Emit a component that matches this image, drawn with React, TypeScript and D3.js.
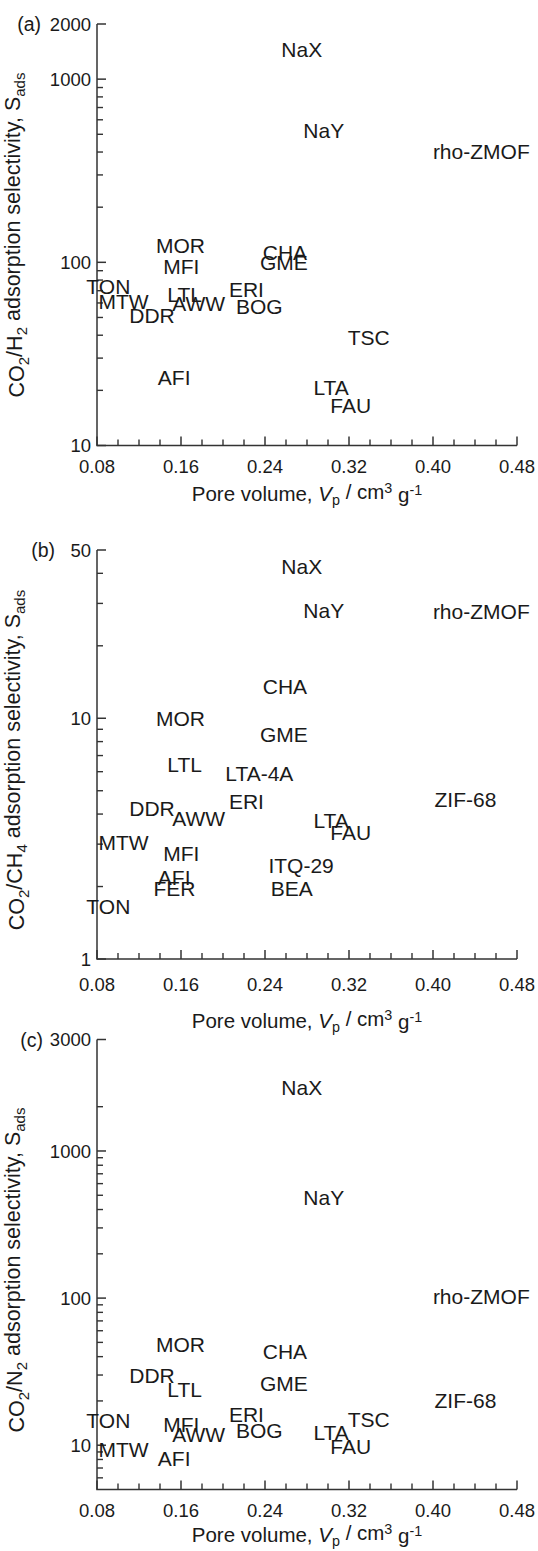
import React from "react";
import * as d3 from "d3";

const W = 538;
const H = 1551;

// Pore volume (cm3 g-1) of each framework
const FRAMEWORKS = [
  "NaX", "NaY", "rho-ZMOF", "MOR", "CHA", "GME", "MFI", "TON", "MTW", "LTL", "AWW",
  "DDR", "ERI", "BOG", "TSC", "AFI", "LTA", "FAU", "LTA-4A", "ZIF-68", "ITQ-29", "FER", "BEA",
];
const PORE_VOLUME = [
  0.275, 0.296, 0.446, 0.1595, 0.259, 0.258, 0.1603, 0.0908, 0.1053, 0.1635, 0.1768,
  0.1324, 0.2223, 0.2345, 0.3388, 0.1535, 0.303, 0.3216, 0.2346, 0.4309, 0.2744, 0.1537, 0.2655,
];

// (a) CO2/H2 adsorption selectivity
const H2_NAMES = ["NaX", "NaY", "rho-ZMOF", "MOR", "CHA", "GME", "MFI", "TON", "MTW", "LTL", "AWW", "DDR", "ERI", "BOG", "TSC", "AFI", "LTA", "FAU"];
const H2_SEL = [1446, 525, 405, 124.3, 113.8, 100.4, 94.9, 74.2, 61.1, 66.6, 59.8, 51.4, 71.0, 57.3, 39.0, 23.6, 20.8, 16.6];

// (b) CO2/CH4 adsorption selectivity
const CH4_NAMES = ["NaX", "NaY", "rho-ZMOF", "CHA", "MOR", "GME", "LTL", "LTA-4A", "ZIF-68", "ERI", "DDR", "AWW", "LTA", "FAU", "MTW", "MFI", "ITQ-29", "AFI", "FER", "BEA", "TON"];
const CH4_SEL = [42.6, 28.1, 27.8, 13.6, 9.98, 8.6, 6.42, 5.91, 4.59, 4.51, 4.22, 3.82, 3.76, 3.35, 3.04, 2.75, 2.44, 2.19, 1.96, 1.96, 1.66];

// (c) CO2/N2 adsorption selectivity
const N2_NAMES = ["NaX", "NaY", "rho-ZMOF", "MOR", "CHA", "DDR", "LTL", "GME", "ZIF-68", "TON", "ERI", "TSC", "MFI", "BOG", "AWW", "LTA", "FAU", "MTW", "AFI"];
const N2_SEL = [2246, 484, 102.8, 48.4, 43.1, 29.7, 24.1, 26.1, 20.3, 14.7, 16.1, 14.9, 13.95, 12.7, 11.9, 12.2, 9.86, 9.35, 8.16];

const X_TICKS = [0.08, 0.16, 0.24, 0.32, 0.4, 0.48];
const X_MINOR_STEP = 0.02;
const H2_Y_TICKS = [10, 100, 1000, 2000];
const CH4_Y_TICKS = [1, 10, 50];
const N2_Y_TICKS = [10, 100, 1000, 3000];

const FONT = "'Liberation Sans', Arial, Helvetica, sans-serif";
const INK = "#1a1a1a";
const AXIS = "#333";

type PanelSpec = {
  tag: string;
  tagRight: number;
  gas: string;
  names: string[];
  sel: number[];
  yTicks: number[];
  yDomain: number[];
  yRange: number[];
  tickLabelY: number;
  titleY: number;
  yTitleMid: number;
};

const X0 = 97;
const X1 = 517;

const PANELS: PanelSpec[] = [
  {
    tag: "(a)", tagRight: 41, gas: "H", names: H2_NAMES, sel: H2_SEL, yTicks: H2_Y_TICKS,
    yDomain: [10, 2000], yRange: [445.5, 24], tickLabelY: 473, titleY: 501, yTitleMid: 235,
  },
  {
    tag: "(b)", tagRight: 55, gas: "CH", names: CH4_NAMES, sel: CH4_SEL, yTicks: CH4_Y_TICKS,
    yDomain: [1, 50], yRange: [959, 550], tickLabelY: 991, titleY: 1028, yTitleMid: 760,
  },
  {
    tag: "(c)", tagRight: 43, gas: "N", names: N2_NAMES, sel: N2_SEL, yTicks: N2_Y_TICKS,
    yDomain: [5, 2000, 3000], yRange: [1489.5, 1106.7, 1039.5], tickLabelY: 1517, titleY: 1542, yTitleMid: 1270,
  },
];

function minorTicks(domain: number[], majors: number[]): number[] {
  const lo = domain[0];
  const hi = domain[domain.length - 1];
  const out: number[] = [];
  for (let k = Math.floor(Math.log10(lo)); k <= Math.ceil(Math.log10(hi)); k++) {
    for (let m = 1; m <= 9; m++) {
      const v = m * Math.pow(10, k);
      if (v <= lo || v > hi) continue;
      if (majors.some((t) => Math.abs(t - v) < 1e-9)) continue;
      out.push(v);
    }
  }
  return out;
}

function yTitle(gas: string) {
  const sub = { fontSize: "0.7em" } as React.CSSProperties;
  const suffix = gas === "CH" ? "4" : "2";
  return (
    <>
      <tspan>CO</tspan>
      <tspan dy="0.3em" style={sub}>2</tspan>
      <tspan dy="-0.3em">/{gas}</tspan>
      <tspan dy="0.3em" style={sub}>{suffix}</tspan>
      <tspan dy="-0.3em"> adsorption selectivity, S</tspan>
      <tspan dy="0.3em" style={sub}>ads</tspan>
    </>
  );
}

function Panel({ p }: { p: PanelSpec }) {
  const x = d3.scaleLinear().domain([0.08, 0.48]).range([X0, X1]);
  const y = d3.scaleLog().domain(p.yDomain).range(p.yRange);
  const bottom = p.yRange[0];
  const top = p.yRange[p.yRange.length - 1];
  const yMinor = minorTicks(p.yDomain, p.yTicks);
  const xMinor = d3.range(0.08, 0.48 + 1e-9, X_MINOR_STEP).filter(
    (v) => !X_TICKS.some((t) => Math.abs(t - v) < 1e-9)
  );
  const pv = (name: string) => PORE_VOLUME[FRAMEWORKS.indexOf(name)];
  const sup = { fontSize: "0.7em" } as React.CSSProperties;

  return (
    <g>
      {/* axes */}
      <path d={`M${X0},${top}V${bottom}H${X1}`} fill="none" stroke={AXIS} strokeWidth={1.5} />
      {p.yTicks.map((t) => (
        <g key={"ym" + t}>
          <line x1={X0} x2={X0 + 9} y1={y(t)} y2={y(t)} stroke={AXIS} strokeWidth={1.5} />
          <text x={X0 - 6} y={y(t)} dy="0.36em" textAnchor="end" fontSize={18.5} fill={INK}>
            {t}
          </text>
        </g>
      ))}
      {yMinor.map((t) => (
        <line key={"yn" + t} x1={X0} x2={X0 + 6} y1={y(t)} y2={y(t)} stroke={AXIS} strokeWidth={1.4} />
      ))}
      {X_TICKS.map((t) => (
        <g key={"xm" + t}>
          <line x1={x(t)} x2={x(t)} y1={bottom} y2={bottom - 9} stroke={AXIS} strokeWidth={1.5} />
          <text x={x(t)} y={p.tickLabelY} textAnchor="middle" fontSize={18.5} fill={INK}>
            {t.toFixed(2)}
          </text>
        </g>
      ))}
      {xMinor.map((t) => (
        <line key={"xn" + t} x1={x(t)} x2={x(t)} y1={bottom} y2={bottom - 6} stroke={AXIS} strokeWidth={1.4} />
      ))}

      {/* panel tag */}
      <text x={p.tagRight} y={top} dy="0.36em" textAnchor="end" fontSize={19.5} fill={INK}>
        {p.tag}
      </text>

      {/* axis titles */}
      <text x={(X0 + X1) / 2} y={p.titleY} textAnchor="middle" fontSize={20.5} fill={INK}>
        <tspan>Pore volume, </tspan>
        <tspan fontStyle="italic">V</tspan>
        <tspan dy="0.3em" style={sup}>p</tspan>
        <tspan dy="-0.3em"> / cm</tspan>
        <tspan dy="-0.45em" style={sup}>3</tspan>
        <tspan dy="0.45em"> g</tspan>
        <tspan dy="-0.45em" style={sup}>-1</tspan>
      </text>
      <text
        transform={`translate(24,${p.yTitleMid}) rotate(-90)`}
        textAnchor="middle"
        fontSize={21.5}
        fill={INK}
      >
        {yTitle(p.gas)}
      </text>

      {/* framework labels placed at (pore volume, selectivity) */}
      {p.names.map((n, i) => (
        <text
          key={n}
          x={x(pv(n))}
          y={y(p.sel[i])}
          dy="0.36em"
          textAnchor="middle"
          fontSize={21}
          fill={INK}
        >
          {n}
        </text>
      ))}
    </g>
  );
}

export default function App() {
  return (
    <div style={{ position: "absolute", left: 0, top: 0, width: W, height: H, background: "#fff" }}>
      <svg width={W} height={H} viewBox={`0 0 ${W} ${H}`} style={{ display: "block", fontFamily: FONT }}>
        <rect width={W} height={H} fill="#fff" />
        {PANELS.map((p) => (
          <Panel key={p.tag} p={p} />
        ))}
      </svg>
    </div>
  );
}
